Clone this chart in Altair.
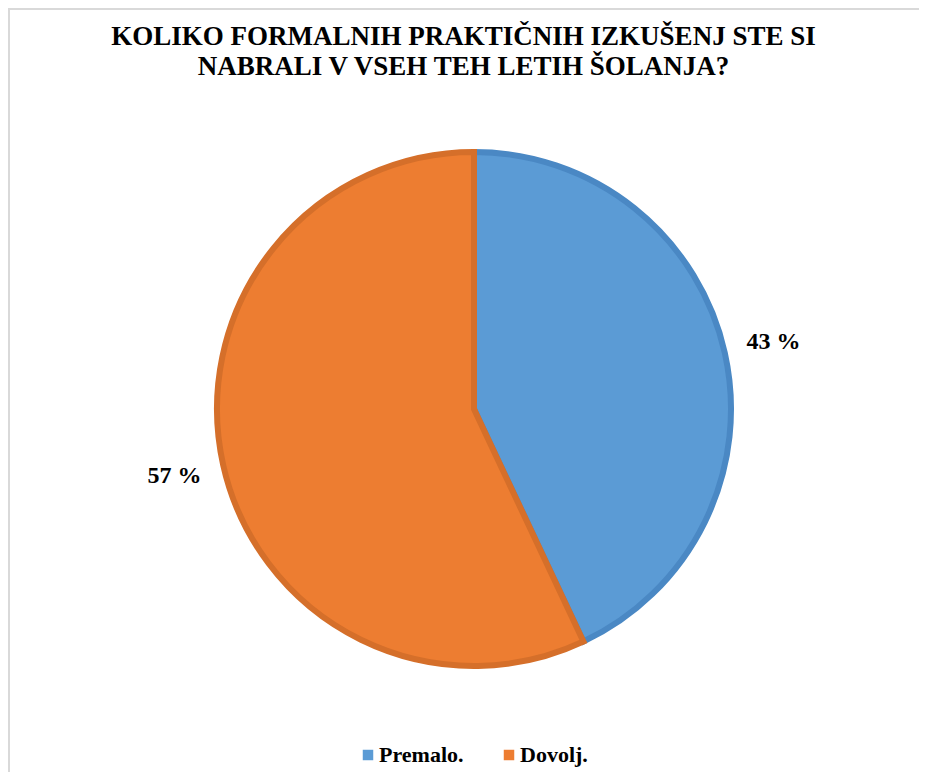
import altair as alt
import pandas as pd

categories = ["Premalo.", "Dovolj."]
values = [43, 57]
labels = ["43 %", "57 %"]
fill_colors = ["#5b9bd5", "#ed7d31"]
stroke_colors = ["#4a88c4", "#d56f2a"]
title_lines = ["KOLIKO FORMALNIH PRAKTIČNIH IZKUŠENJ STE SI",
               "NABRALI V VSEH TEH LETIH ŠOLANJA?"]

df = pd.DataFrame({"cat": categories, "value": values, "label": labels,
                   "idx": list(range(len(categories)))})

W, H = 911, 764
CX, CY = 466, 401
FONT = "Liberation Serif"

base = alt.Chart(df).encode(
    theta=alt.Theta("value:Q", stack=True),
    order=alt.Order("idx:Q"),
)

pie = base.mark_arc(outerRadius=257, strokeWidth=6, x=CX, y=CY).encode(
    color=alt.Color("cat:N", sort=categories,
                    scale=alt.Scale(domain=categories, range=fill_colors),
                    legend=alt.Legend(title=None, orient="none", direction="horizontal",
                                      legendX=345, legendY=736,
                                      symbolType="square", symbolSize=110,
                                      symbolStrokeWidth=0, symbolOffset=4,
                                      labelFont=FONT, labelFontSize=22,
                                      labelFontWeight="bold", labelColor="#000000",
                                      labelOffset=0, columnPadding=30, padding=0)),
    stroke=alt.Stroke("cat:N", scale=alt.Scale(domain=categories, range=stroke_colors),
                      legend=None),
)

text = base.mark_text(radius=307, font=FONT, fontSize=24, fontWeight="bold",
                      color="#000000", x=CX, y=CY).encode(text="label:N")

border = alt.Chart(pd.DataFrame({"k": [0]})).mark_rule(color="#d9d9d9", strokeWidth=2)
left_b = border.encode(x=alt.value(1), y=alt.value(0), y2=alt.value(H))
top_b = border.encode(x=alt.value(0), x2=alt.value(W), y=alt.value(1))

chart = alt.layer(left_b, top_b, pie, text).properties(
    width=W, height=H,
    autosize=alt.AutoSizeParams(type="none"),
    padding=0,
    title=alt.TitleParams(text=title_lines, anchor="middle", font=FONT, fontSize=27,
                          fontWeight="bold", color="#000000", baseline="top",
                          offset=0, dy=74, lineHeight=30),
).configure_view(stroke=None).configure(background="white")

chart.save("out.html", embed_options={"renderer": "svg", "actions": False})
